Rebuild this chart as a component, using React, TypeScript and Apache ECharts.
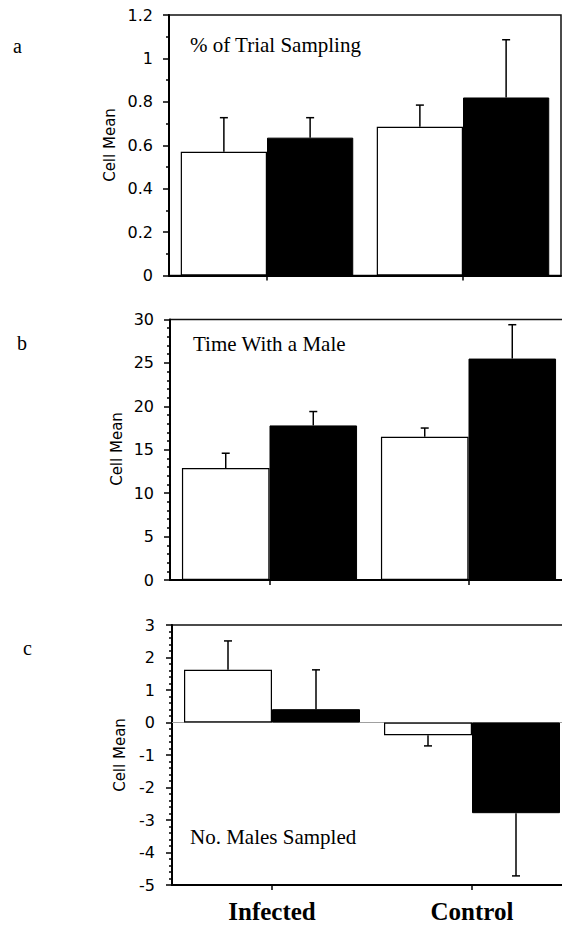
import React, { useEffect, useRef } from 'react';
import * as echarts from 'echarts';

const categories = ['Infected', 'Control'];
const panelTitles = ['% of Trial Sampling', 'Time With a Male', 'No. Males Sampled'];
const panelLetters = ['a', 'b', 'c'];
const axisTitle = 'Cell Mean';

// Panel a: % of trial sampling
const trialWhite = [0.57, 0.685];
const trialWhiteErr = [0.157, 0.1];
const trialBlack = [0.635, 0.82];
const trialBlackErr = [0.092, 0.266];
// Panel b: time with a male
const timeWhite = [12.9, 16.5];
const timeWhiteErr = [1.7, 1.0];
const timeBlack = [17.8, 25.5];
const timeBlackErr = [1.6, 3.9];
// Panel c: no. males sampled
const malesWhite = [1.62, -0.39];
const malesWhiteErr = [0.89, 0.33];
const malesBlack = [0.41, -2.79];
const malesBlackErr = [1.21, 1.93];

const yMins = [0, 0, -5];
const yMaxs = [1.2, 30, 3];
const yIntervals = [0.2, 5, 1];
const yMinorSplits = [2, 5, 5];

const SANS = 'DejaVu Sans';
const SERIF = 'Liberation Serif';

const grids = [
  { left: 169, top: 15, width: 392, height: 260.5 },
  { left: 170, top: 319.5, width: 398, height: 260.5 },
  { left: 172, top: 625, width: 400, height: 260 },
];
const labelMargins = [16, 16, 17];
const titlePos = [
  { x: 190, y: 45 },
  { x: 193, y: 344 },
  { x: 190, y: 837 },
];
const letterPos = [
  { x: 13, y: 46 },
  { x: 17, y: 343 },
  { x: 23, y: 648 },
];
const axisTitlePos = [
  { x: 110, y: 145 },
  { x: 117, y: 449 },
  { x: 120, y: 755 },
];

const BAR_FRAC = 0.44;

function errorRender(offsetFrac: number) {
  return (params: any, api: any) => {
    const cat = api.value(0);
    const val = api.value(1);
    const err = api.value(2);
    const end = val >= 0 ? val + err : val - err;
    const p0 = api.coord([cat, val]);
    const p1 = api.coord([cat, end]);
    const band = api.size([1, 0])[0];
    const x = p0[0] + offsetFrac * band;
    const style = { stroke: '#000', lineWidth: 1.5 };
    return {
      type: 'group',
      children: [
        { type: 'line', shape: { x1: x, y1: p0[1], x2: x, y2: p1[1] }, style },
        { type: 'line', shape: { x1: x - 4, y1: p1[1], x2: x + 4, y2: p1[1] }, style },
      ],
    };
  };
}

export default function App() {
  const ref = useRef<HTMLDivElement>(null);
  useEffect(() => {
    if (!ref.current) return;
    const chart = echarts.init(ref.current, undefined, { renderer: 'svg' });
    const whites = [trialWhite, timeWhite, malesWhite];
    const whiteErrs = [trialWhiteErr, timeWhiteErr, malesWhiteErr];
    const blacks = [trialBlack, timeBlack, malesBlack];
    const blackErrs = [trialBlackErr, timeBlackErr, malesBlackErr];

    const series: any[] = [];
    for (let i = 0; i < 3; i++) {
      const white: any = {
        type: 'bar',
        xAxisIndex: i,
        yAxisIndex: i,
        data: whites[i],
        barWidth: `${BAR_FRAC * 100}%`,
        barGap: '0%',
        itemStyle: { color: '#fff', borderColor: '#000', borderWidth: 1.2 },
        z: 2,
      };
      if (i === 2) {
        white.markLine = {
          silent: true,
          symbol: ['none', 'none'],
          label: { show: false },
          lineStyle: { color: '#a0a0a0', type: 'solid', width: 1 },
          data: [{ yAxis: 0 }],
          z: 1,
        };
      }
      series.push(white);
      series.push({
        type: 'bar',
        xAxisIndex: i,
        yAxisIndex: i,
        data: blacks[i],
        barWidth: `${BAR_FRAC * 100}%`,
        barGap: '0%',
        itemStyle: { color: '#000', borderColor: '#000', borderWidth: 1 },
        z: 3,
      });
      series.push({
        type: 'custom',
        xAxisIndex: i,
        yAxisIndex: i,
        renderItem: errorRender(-BAR_FRAC / 2),
        encode: { x: 0, y: 1 },
        data: whites[i].map((v, k) => [k, v, whiteErrs[i][k]]),
        z: 5,
      });
      series.push({
        type: 'custom',
        xAxisIndex: i,
        yAxisIndex: i,
        renderItem: errorRender(BAR_FRAC / 2),
        encode: { x: 0, y: 1 },
        data: blacks[i].map((v, k) => [k, v, blackErrs[i][k]]),
        z: 5,
      });
    }

    const graphic: any[] = [];
    for (let i = 0; i < 3; i++) {
      graphic.push({
        type: 'text',
        x: titlePos[i].x,
        y: titlePos[i].y,
        style: { text: panelTitles[i], font: `21px "${SERIF}"`, fill: '#000', align: 'left', verticalAlign: 'middle' },
      });
      graphic.push({
        type: 'text',
        x: letterPos[i].x,
        y: letterPos[i].y,
        style: { text: panelLetters[i], font: `20px "${SERIF}"`, fill: '#000', align: 'left', verticalAlign: 'middle' },
      });
      graphic.push({
        type: 'text',
        x: axisTitlePos[i].x,
        y: axisTitlePos[i].y,
        rotation: Math.PI / 2,
        style: { text: axisTitle, font: `15px "${SANS}"`, fill: '#000', align: 'center', verticalAlign: 'middle' },
      });
    }

    chart.setOption({
      animation: false,
      backgroundColor: '#fff',
      grid: grids.map((g) => ({
        ...g,
        show: true,
        borderColor: '#111',
        borderWidth: 1.5,
        backgroundColor: 'transparent',
        containLabel: false,
      })),
      xAxis: grids.map((_, i) => ({
        type: 'category',
        gridIndex: i,
        data: categories,
        boundaryGap: true,
        axisLine: { show: true, onZero: false, lineStyle: { color: '#000', width: 2 } },
        axisTick: { show: true, alignWithLabel: true, length: 5, lineStyle: { color: '#000', width: 1.5 } },
        axisLabel: {
          show: i === 2,
          margin: 14,
          fontFamily: SERIF,
          fontWeight: 'bold',
          fontSize: 25,
          color: '#000',
        },
        splitLine: { show: false },
      })),
      yAxis: grids.map((_, i) => ({
        type: 'value',
        gridIndex: i,
        min: yMins[i],
        max: yMaxs[i],
        interval: yIntervals[i],
        axisLine: { show: true, lineStyle: { color: '#000', width: 2 } },
        axisTick: { show: true, length: 6, lineStyle: { color: '#000', width: 1.5 } },
        minorTick: { show: true, splitNumber: yMinorSplits[i], length: 3, lineStyle: { color: '#000', width: 1.5 } },
        axisLabel: { margin: labelMargins[i], fontFamily: SANS, fontSize: 16, color: '#000' },
        splitLine: { show: false },
        minorSplitLine: { show: false },
      })),
      series,
      graphic,
    });
    return () => chart.dispose();
  }, []);
  return (
    <div style={{ position: 'absolute', left: 0, top: 0, width: 562, height: 925, overflow: 'hidden' }}>
      <div ref={ref} style={{ width: 600, height: 925 }} />
    </div>
  );
}
